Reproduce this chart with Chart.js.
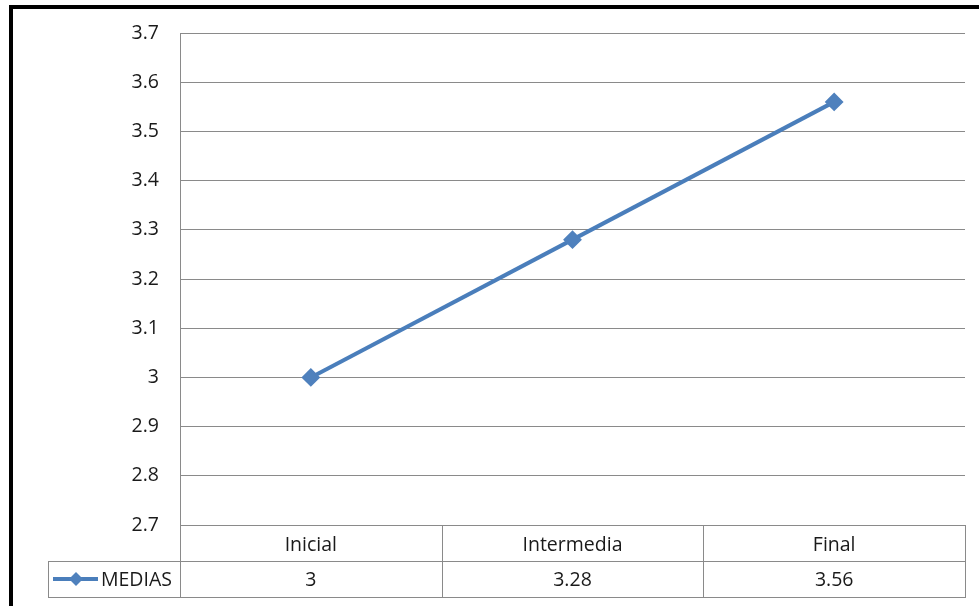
<!DOCTYPE html>
<html><head><meta charset="utf-8">
<script src="https://cdn.jsdelivr.net/npm/chart.js@4"></script>
<style>html,body{margin:0;padding:0;background:#fff;}#wrap{position:absolute;left:0;top:0;width:979px;height:606px;}</style>
</head><body><div id="wrap"><canvas id="c" width="979" height="606"></canvas></div>
<script>
const categories = ["Inicial", "Intermedia", "Final"];
const seriesName = "MEDIAS";
const mediasValues = [3, 3.28, 3.56];
const yMin = 2.7, yMax = 3.7, yStep = 0.1;

const FONT = "'Open Sans', sans-serif";
const FS = 19.5;
const LINE = "#4A7EBB", FILL = "#4F81BD", GRID = "#8a8a8a", TXT = "#1a1a1a";

const tablePlugin = {
  id: 'dataTable',
  beforeDraw(chart) {
    const ctx = chart.ctx;
    ctx.save();
    ctx.fillStyle = '#fff';
    ctx.fillRect(0, 0, chart.width, chart.height);
    ctx.fillStyle = '#000';
    ctx.fillRect(9, 5, 4, chart.height - 5);
    ctx.fillRect(9, 5, chart.width - 9, 4);
    ctx.restore();
  },
  afterDraw(chart) {
    const ctx = chart.ctx, x = chart.scales.x, a = chart.chartArea;
    const sp = x.getPixelForValue(1) - x.getPixelForValue(0);
    const top = a.bottom, mid = a.bottom + 36, bot = a.bottom + 72;
    const legL = 48;
    ctx.save();
    ctx.strokeStyle = GRID; ctx.lineWidth = 1;
    ctx.beginPath();
    for (let i = 0; i <= categories.length; i++) {
      const px = Math.round(x.getPixelForValue(0) - sp / 2 + i * sp) + 0.5;
      ctx.moveTo(px, top); ctx.lineTo(px, bot);
    }
    ctx.moveTo(legL + 0.5, mid); ctx.lineTo(legL + 0.5, bot);
    ctx.moveTo(legL, mid + 0.5); ctx.lineTo(a.right + 1, mid + 0.5);
    ctx.moveTo(legL, bot + 0.5); ctx.lineTo(a.right + 1, bot + 0.5);
    ctx.stroke();
    // values row
    ctx.fillStyle = TXT; ctx.font = FS + "px " + FONT;
    ctx.textAlign = 'center'; ctx.textBaseline = 'middle';
    mediasValues.forEach((v, i) => {
      ctx.fillText(String(v), x.getPixelForValue(i), (mid + bot) / 2 + 1);
    });
    // legend key
    const ly = (mid + bot) / 2;
    ctx.strokeStyle = LINE; ctx.lineWidth = 4;
    ctx.beginPath(); ctx.moveTo(53, ly); ctx.lineTo(98, ly); ctx.stroke();
    ctx.fillStyle = FILL;
    ctx.beginPath();
    ctx.moveTo(76, ly - 7); ctx.lineTo(83, ly); ctx.lineTo(76, ly + 7); ctx.lineTo(69, ly);
    ctx.closePath(); ctx.fill();
    ctx.fillStyle = TXT; ctx.textAlign = 'left';
    ctx.fillText(seriesName, 101, ly + 1);
    ctx.restore();
  }
};

new Chart(document.getElementById('c'), {
  type: 'line',
  data: {
    labels: categories,
    datasets: [{
      label: seriesName,
      data: mediasValues,
      borderColor: LINE,
      backgroundColor: FILL,
      borderWidth: 4,
      pointStyle: 'rectRot',
      pointRadius: 8,
      pointBorderWidth: 2,
      pointBorderColor: FILL,
      pointBackgroundColor: FILL,
      tension: 0
    }]
  },
  options: {
    responsive: false,
    animation: false,
    layout: { padding: { top: 33, right: 14, bottom: 45, left: 0 } },
    plugins: { legend: { display: false }, tooltip: { enabled: false } },
    scales: {
      x: {
        offset: true,
        grid: { display: false, offset: true },
        border: { display: false },
        ticks: { color: TXT, font: { family: FONT, size: FS }, padding: 1 },
        afterFit(s) { s.height = 36; }
      },
      y: {
        min: yMin, max: yMax,
        grid: { color: GRID, drawTicks: false, lineWidth: 1 },
        border: { display: true, color: GRID },
        ticks: {
          stepSize: yStep, color: TXT, padding: 21,
          font: { family: FONT, size: FS },
          callback: v => String(Number(v.toFixed(1)))
        },
        afterFit(s) { s.width = 180; }
      }
    }
  },
  plugins: [tablePlugin]
});
</script></body></html>
